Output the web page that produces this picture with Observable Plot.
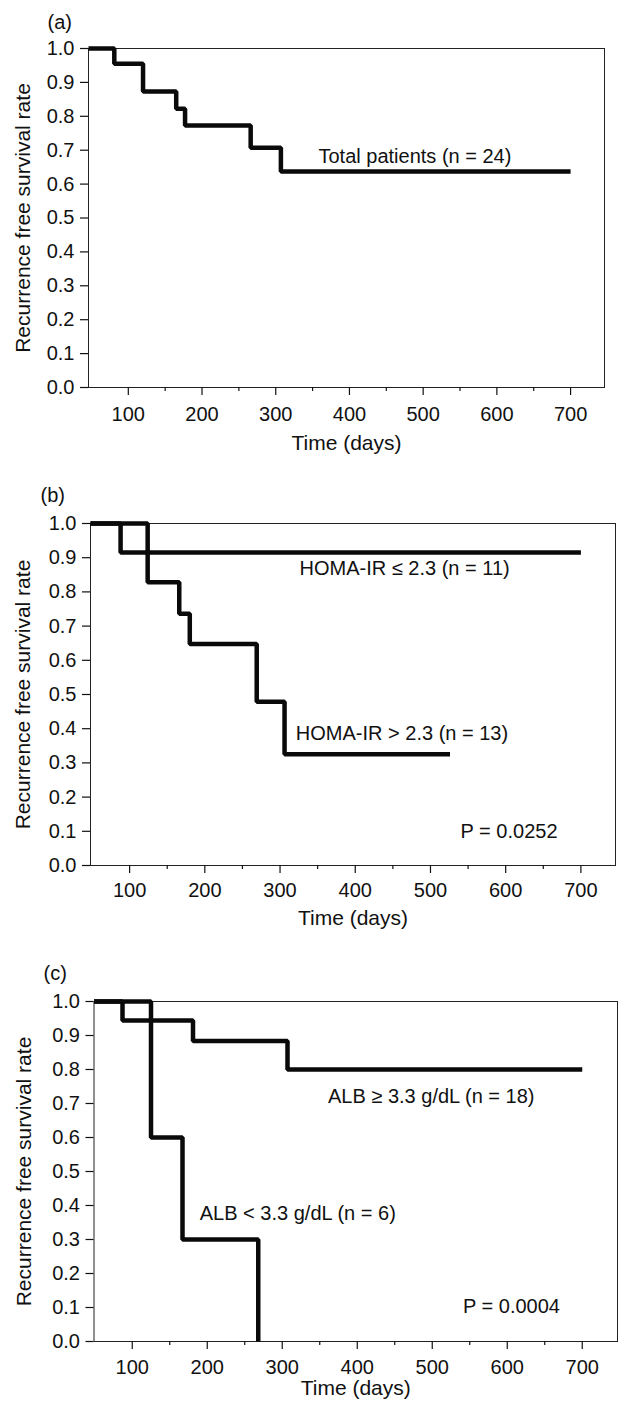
<!DOCTYPE html>
<html>
<head>
<meta charset="utf-8">
<script src="https://cdn.jsdelivr.net/npm/d3@7"></script>
<script src="https://cdn.jsdelivr.net/npm/@observablehq/plot@0.6"></script>
<style>
  html, body { margin: 0; padding: 0; background: #fff; }
  #root { width: 619px; }
  #root svg { display: block; }
</style>
</head>
<body>
<div id="root"></div>
<script>
// ---------- data ----------
const panelLabels = ["(a)", "(b)", "(c)"];
const xMajorTicks = [100, 200, 300, 400, 500, 600, 700];
const xMinorTicks = [150, 250, 350, 450, 550, 650];
const yTicks = [0, 0.1, 0.2, 0.3, 0.4, 0.5, 0.6, 0.7, 0.8, 0.9, 1.0];

// (a) total patients
const totalTime = [46, 81, 120, 165, 177, 266, 307, 700];
const totalSurv = [1.0, 0.955, 0.873, 0.822, 0.773, 0.707, 0.637, 0.637];

// (b) HOMA-IR
const homaLowTime = [48, 88, 700];
const homaLowSurv = [1.0, 0.915, 0.915];
const homaHighTime = [48, 124, 166, 180, 269, 306, 526];
const homaHighSurv = [1.0, 0.828, 0.736, 0.648, 0.479, 0.325, 0.325];

// (c) ALB
const albHighTime = [49, 87, 181, 307, 700];
const albHighSurv = [1.0, 0.944, 0.884, 0.80, 0.80];
const albLowTime = [49, 125, 167, 268];
const albLowSurv = [1.0, 0.60, 0.30, 0.0];

// annotation texts with anchor values (days, rate)
const annA = [{t: "Total patients (n = 24)", x: 358, y: 0.681}];
const annB = [
  {t: "HOMA-IR \u2264 2.3 (n = 11)", x: 326, y: 0.868},
  {t: "HOMA-IR > 2.3 (n = 13)", x: 321, y: 0.385},
  {t: "P = 0.0252", x: 540, y: 0.098}
];
const annC = [
  {t: "ALB \u2265 3.3 g/dL (n = 18)", x: 361, y: 0.721},
  {t: "ALB < 3.3 g/dL (n = 6)", x: 190, y: 0.375},
  {t: "P = 0.0004", x: 541, y: 0.104}
];

function rows(times, survs, g) {
  return times.map((t, i) => ({time: t, surv: survs[i], g}));
}

const FONT = "'Liberation Sans', Arial, Helvetica, sans-serif";

function panel(cfg) {
  const {label, series, ann, domain, height, mt, mb, ml, mr, labelDx, labelDy, yLabelX, xLabelDy, xPad} = cfg;
  const marks = [
    Plot.frame({stroke: "#222", strokeWidth: 1}),
    Plot.axisY(yTicks, {tickSize: 8, tickPadding: 6, tickFormat: d3.format(".1f"), stroke: "#111", strokeWidth: 1.2}),
    Plot.axisX(xMajorTicks, {tickSize: 8, tickPadding: xPad, tickFormat: d3.format("d"), stroke: "#111", strokeWidth: 1.2}),
    Plot.axisX(xMinorTicks, {tickSize: 4, tickFormat: () => "", stroke: "#111", strokeWidth: 1.2}),
  ];
  for (const s of series) {
    marks.push(Plot.line(s, {x: "time", y: "surv", curve: "step-after", stroke: "#0a0a0a", strokeWidth: 4.5, strokeLinejoin: "miter", strokeLinecap: "butt"}));
  }
  marks.push(Plot.text(ann, {x: "x", y: "y", text: "t", textAnchor: "start", lineAnchor: "middle", fill: "#111"}));
  marks.push(Plot.text([label], {frameAnchor: "top-left", dx: labelDx, dy: labelDy, textAnchor: "start", lineAnchor: "middle", fill: "#111"}));
  marks.push(Plot.text(["Time (days)"], {frameAnchor: "bottom", dy: xLabelDy, textAnchor: "middle", lineAnchor: "middle", fontSize: 21, fill: "#111"}));
  marks.push(Plot.text(["Recurrence free survival rate"], {frameAnchor: "left", dx: yLabelX - ml, rotate: -90, textAnchor: "middle", lineAnchor: "middle", fontSize: 21, fill: "#111"}));
  return Plot.plot({
    width: 619,
    height,
    marginTop: mt,
    marginBottom: mb,
    marginLeft: ml,
    marginRight: mr,
    x: {domain, axis: null},
    y: {domain: [0, 1], axis: null},
    style: {fontFamily: FONT, fontSize: "20px", color: "#111", background: "#fff", overflow: "visible"},
    marks
  });
}

const root = document.getElementById("root");

root.appendChild(panel({
  label: panelLabels[0],
  series: [rows(totalTime, totalSurv, "all")],
  ann: annA,
  domain: [46, 746],
  height: 470, mt: 48, mb: 83, ml: 88, mr: 15,
  labelDx: 47 - 88, labelDy: 22 - 48,
  yLabelX: 22.5, xLabelDy: 56, xPad: 11
}));

root.appendChild(panel({
  label: panelLabels[1],
  series: [rows(homaLowTime, homaLowSurv, "low"), rows(homaHighTime, homaHighSurv, "high")],
  ann: annB,
  domain: [48, 746],
  height: 470, mt: 53, mb: 75, ml: 90, mr: 4,
  labelDx: 40 - 90, labelDy: 25 - 53,
  yLabelX: 23, xLabelDy: 53, xPad: 9
}));

root.appendChild(panel({
  label: panelLabels[2],
  series: [rows(albHighTime, albHighSurv, "high"), rows(albLowTime, albLowSurv, "low")],
  ann: annC,
  domain: [49, 747],
  height: 469, mt: 61, mb: 68, ml: 93.5, mr: 2,
  labelDx: 43 - 93.5, labelDy: 33 - 61,
  yLabelX: 24, xLabelDy: 47, xPad: 10
}));
</script>
</body>
</html>
